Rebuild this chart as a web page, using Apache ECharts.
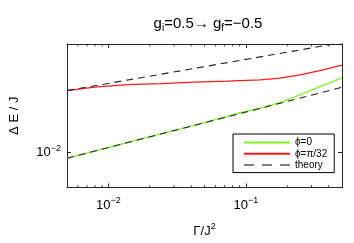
<!DOCTYPE html>
<html>
<head>
<meta charset="utf-8">
<script src="https://cdn.jsdelivr.net/npm/echarts@6/dist/echarts.min.js"></script>
<style>html,body{margin:0;padding:0;background:#fff;}#c{width:354px;height:243px;}</style>
</head>
<body>
<div id="c"></div>
<script>
// ---- data ----
const gamma = [0.005, 0.00792, 0.01381, 0.02403, 0.04182, 0.0729, 0.0910, 0.1269, 0.1769, 0.2468, 0.3441, 0.5];
const phi0 = [0.00914, 0.01024, 0.01177, 0.01351, 0.01549, 0.0179, 0.0190, 0.02044, 0.02237, 0.02532, 0.02893, 0.03329];
const phiPi32 = [0.02714, 0.02871, 0.02989, 0.03038, 0.03107, 0.03162, 0.03188, 0.03224, 0.03314, 0.03495, 0.03746, 0.04086];
const theoryX = [0.005, 0.5];
const theoryLow = [0.00914, 0.02866];
const theoryHigh = [0.02714, 0.0588];
const xMinorTicks = [0.006, 0.007, 0.008, 0.009, 0.02, 0.03, 0.04, 0.05, 0.06, 0.07, 0.08, 0.09, 0.2, 0.3, 0.4];
const xRange = [0.005, 0.5];
const yRange = [0.0057, 0.0575];
const legendNames = ['\u03d5=0', '\u03d5=\u03c0/32', 'theory'];

const FONT = '"Liberation Sans", Arial, Helvetica, sans-serif';
const AX = '#262626';

function zip(xs, ys) { return xs.map((x, i) => [x, ys[i]]); }
function powLabel(v) {
  const e = Math.log10(v);
  if (Math.abs(e - Math.round(e)) > 1e-6) return '';
  return '{b|10}{s|\u2212' + Math.abs(Math.round(e)) + '}';
}
const supRich = {
  b: { fontSize: 13, fontFamily: FONT, color: '#000', lineHeight: 18 },
  s: { fontSize: 9, fontFamily: FONT, color: '#000', verticalAlign: 'top', lineHeight: 10 }
};

const chart = echarts.init(document.getElementById('c'), null, { renderer: 'canvas' });

const minorSeries = [
  {
    type: 'scatter', xAxisIndex: 0, yAxisIndex: 0, silent: true, clip: false,
    symbol: 'rect', symbolSize: [1, 2.5], symbolOffset: [0, -1.25],
    itemStyle: { color: AX }, z: 5,
    data: xMinorTicks.map(x => [x, yRange[0]])
  },
  {
    type: 'scatter', xAxisIndex: 0, yAxisIndex: 0, silent: true, clip: false,
    symbol: 'rect', symbolSize: [1, 2.5], symbolOffset: [0, 1.25],
    itemStyle: { color: AX }, z: 5,
    data: xMinorTicks.map(x => [x, yRange[1]])
  }
];

chart.setOption({
  backgroundColor: '#fff',
  animation: false,
  textStyle: { fontFamily: FONT },
  title: {
    text: '{n|g}{s|i}{n|=0.5\u2192 g}{s|f}{n|=\u22120.5}',
    left: 203, top: 10, textAlign: 'center',
    textStyle: {
      fontWeight: 'normal',
      rich: {
        n: { fontSize: 15, fontWeight: 'normal', fontFamily: FONT, color: '#000', lineHeight: 18 },
        s: { fontSize: 10, fontWeight: 'normal', fontFamily: FONT, color: '#000', verticalAlign: 'bottom', lineHeight: 10 }
      }
    }
  },
  grid: { left: 65, right: 12, top: 44, bottom: 55, containLabel: false },
  legend: {
    data: [
      { name: legendNames[0] },
      { name: legendNames[1] },
      { name: legendNames[2], lineStyle: { color: '#555', width: 1.6, type: [10, 8] } }
    ],
    orient: 'vertical',
    left: 233, top: 134,
    itemWidth: 46, itemHeight: 14, itemGap: 0,
    padding: [3, 7, 2, 10],
    backgroundColor: '#fff',
    borderColor: '#000', borderWidth: 1, borderRadius: 0,
    itemStyle: { opacity: 0 },
    textStyle: { fontSize: 10, fontFamily: FONT, color: '#000' },
    selectedMode: false
  },
  xAxis: [
    {
      type: 'log', logBase: 10, min: xRange[0], max: xRange[1], position: 'bottom',
      name: '{a|\u0393/J}{s|2}', nameLocation: 'middle', nameGap: 35,
      nameTextStyle: { rich: {
        a: { fontSize: 13, fontFamily: FONT, color: '#000', lineHeight: 18 },
        s: { fontSize: 9, fontFamily: FONT, color: '#000', verticalAlign: 'top', lineHeight: 10 }
      } },
      axisLine: { show: true, lineStyle: { color: AX, width: 1 } },
      axisTick: { show: true, inside: true, length: 4, lineStyle: { color: AX } },
      axisLabel: { show: true, margin: 9, formatter: powLabel, rich: supRich, showMinLabel: false, showMaxLabel: false },
      splitLine: { show: false }, minorTick: { show: false }
    },
    {
      type: 'log', logBase: 10, min: xRange[0], max: xRange[1], position: 'top',
      axisLine: { show: true, lineStyle: { color: AX, width: 1 } },
      axisTick: { show: true, inside: true, length: 4, lineStyle: { color: AX } },
      axisLabel: { show: false }, splitLine: { show: false }
    }
  ],
  yAxis: [
    {
      type: 'log', logBase: 10, min: yRange[0], max: yRange[1], position: 'left',
      name: '\u0394 E / J', nameLocation: 'middle', nameGap: 46, nameRotate: 90,
      nameTextStyle: { fontSize: 13, fontFamily: FONT, color: '#000' },
      axisLine: { show: true, lineStyle: { color: AX, width: 1 } },
      axisTick: { show: true, inside: true, length: 4, lineStyle: { color: AX } },
      axisLabel: { show: true, margin: 6, formatter: powLabel, rich: supRich, showMinLabel: false, showMaxLabel: false },
      splitLine: { show: false }
    },
    {
      type: 'log', logBase: 10, min: yRange[0], max: yRange[1], position: 'right',
      axisLine: { show: true, lineStyle: { color: AX, width: 1 } },
      axisTick: { show: true, inside: true, length: 4, lineStyle: { color: AX } },
      axisLabel: { show: false }, splitLine: { show: false }
    }
  ],
  series: [
    {
      name: legendNames[2], type: 'line', xAxisIndex: 0, yAxisIndex: 0,
      data: zip(theoryX, theoryHigh), showSymbol: false, symbol: 'none', clip: true,
      lineStyle: { color: '#222', width: 1.1, type: [7, 5] }, itemStyle: { color: '#555' }, z: 3
    },
    {
      name: legendNames[0], type: 'line', xAxisIndex: 0, yAxisIndex: 0,
      data: zip(gamma, phi0), showSymbol: false, symbol: 'none',
      lineStyle: { color: '#7ff02a', width: 1.3 }, itemStyle: { color: '#7ff02a' }, z: 2
    },
    {
      name: legendNames[1], type: 'line', xAxisIndex: 0, yAxisIndex: 0,
      data: zip(gamma, phiPi32), showSymbol: false, symbol: 'none',
      lineStyle: { color: '#ff1a1a', width: 1.3 }, itemStyle: { color: '#ff1a1a' }, z: 2
    },
    {
      name: legendNames[2], type: 'line', xAxisIndex: 0, yAxisIndex: 0,
      data: zip(theoryX, theoryLow), showSymbol: false, symbol: 'none', clip: true,
      lineStyle: { color: '#222', width: 1.1, type: [7, 5] }, itemStyle: { color: '#555' }, z: 3
    }
  ].concat(minorSeries)
});
</script>
</body>
</html>
